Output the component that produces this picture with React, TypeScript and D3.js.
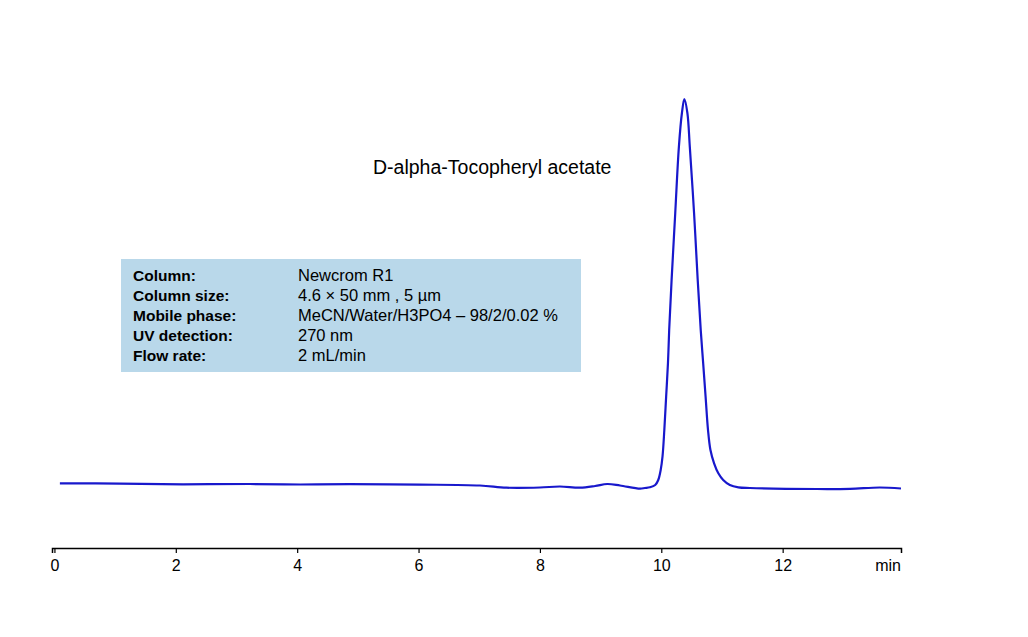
import React, { useEffect, useRef } from 'react';
import * as d3 from 'd3';

// chromatogram trace (time in min, signal in relative units)
const times = [
  0.09, 1.08, 2.12, 3.22, 4.05, 4.87, 6.02, 7.01, 7.45, 8.0, 8.33, 8.66, 8.91, 9.11, 9.32, 9.65,
  9.73, 9.81, 9.9, 9.95, 9.99, 10.02, 10.05, 10.08, 10.11, 10.13, 10.17, 10.23, 10.29, 10.34, 10.38,
  10.43, 10.47, 10.54, 10.6, 10.65, 10.69, 10.73, 10.77, 10.81, 10.87, 10.94, 11.02, 11.13, 11.27, 11.46,
  12.57, 13.11, 13.6, 13.95,
];
const signal = [
  1.21, 1.13, 0.95, 1.03, 0.9, 0.98, 0.87, 0.64, 0.08, 0.13, 0.39, 0.08, 0.51, 1.03, 0.64, -0.18,
  0.0, 0.18, 0.77, 2.06, 4.63, 8.05, 14.9, 23.5, 32.1, 40.6, 53.5, 70.7, 87.7, 96.4, 100,
  96.4, 87.7, 70.7, 53.5, 40.6, 32.1, 23.5, 14.9, 9.77, 6.35, 3.78, 2.06, 0.77, 0.18, 0.0,
  -0.26, -0.21, 0.13, -0.13,
];

const tickValues = [0, 2, 4, 6, 8, 10, 12];
const axisUnit = 'min';
const peakName = 'D-alpha-Tocopheryl acetate';

const infoLabels = ['Column:', 'Column size:', 'Mobile phase:', 'UV detection:', 'Flow rate:'];
const infoValues = ['Newcrom R1', '4.6 × 50 mm , 5 µm', 'MeCN/Water/H3PO4 – 98/2/0.02 %', '270 nm', '2 mL/min'];

const W = 1028;
const H = 637;
const FONT = "Arial, 'Liberation Sans', sans-serif";

const App: React.FC = () => {
  const ref = useRef<SVGSVGElement | null>(null);

  useEffect(() => {
    const svg = d3.select(ref.current);
    svg.selectAll('*').remove();

    const x = d3.scaleLinear().domain([-0.04, 13.95]).range([52, 901]);
    const y = d3.scaleLinear().domain([0, 100]).range([488, 99]);

    // info box
    const box = svg.append('g');
    box.append('rect')
      .attr('x', 121).attr('y', 259)
      .attr('width', 460).attr('height', 113)
      .attr('fill', '#b9d8ea');
    infoLabels.forEach((lab, i) => {
      box.append('text')
        .attr('x', 133).attr('y', 281 + i * 20)
        .attr('font-family', FONT).attr('font-size', 15.5).attr('font-weight', 'bold')
        .attr('fill', '#000')
        .text(lab);
      box.append('text')
        .attr('x', 298).attr('y', 281 + i * 20)
        .attr('font-family', FONT).attr('font-size', 16.5)
        .attr('fill', '#000')
        .text(infoValues[i]);
    });

    // peak label
    svg.append('text')
      .attr('x', 373).attr('y', 174)
      .attr('font-family', FONT).attr('font-size', 19.5)
      .attr('fill', '#000')
      .text(peakName);

    // trace
    const pts = times.map((t, i) => [t, signal[i]] as [number, number]);
    const line = d3.line<[number, number]>()
      .x(d => x(d[0]))
      .y(d => y(d[1]))
      .curve(d3.curveCatmullRom.alpha(0.5));
    svg.append('path')
      .datum(pts)
      .attr('d', line)
      .attr('fill', 'none')
      .attr('stroke', '#1818cc')
      .attr('stroke-width', 2.2)
      .attr('stroke-linejoin', 'round');

    // x axis
    const axis = d3.axisBottom(x)
      .tickValues(tickValues)
      .tickSizeOuter(0)
      .tickSize(5)
      .tickPadding(7)
      .tickFormat(d3.format('d'));
    const g = svg.append('g')
      .attr('transform', 'translate(0,548)')
      .call(axis);
    g.attr('font-size', 16).attr('font-family', FONT);
    g.select('.domain').attr('stroke', '#000').attr('stroke-width', 1.5);
    g.selectAll('.tick line').attr('stroke', '#000').attr('stroke-width', 1.2);
    g.selectAll('.tick text').attr('fill', '#000');

    svg.append('text')
      .attr('x', 901).attr('y', 571)
      .attr('text-anchor', 'end')
      .attr('font-family', FONT).attr('font-size', 16)
      .attr('fill', '#000')
      .text(axisUnit);
  }, []);

  return (
    <svg
      ref={ref}
      width={W}
      height={H}
      style={{ position: 'absolute', left: 0, top: 0, display: 'block', background: '#fff' }}
    />
  );
};

export default App;
